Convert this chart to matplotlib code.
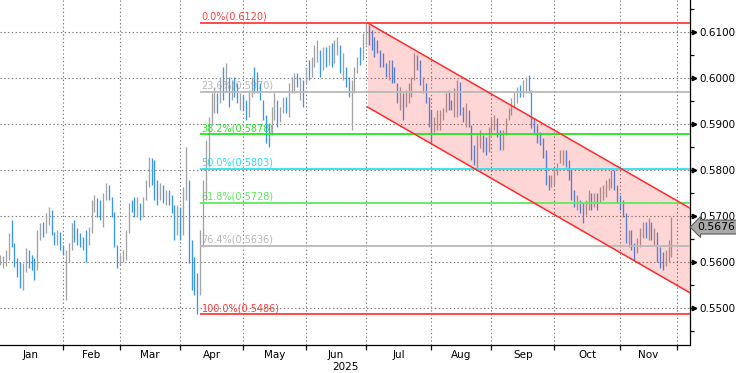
import numpy as np
import pandas as pd
import matplotlib
matplotlib.use("Agg")
import matplotlib.pyplot as plt
import matplotlib.transforms as mtrans

# ---------------- data (NZD/USD daily, 2025) ----------------
closes = [
    # Jan
    0.5600, 0.5609, 0.5617, 0.5657, 0.5637, 0.5600, 0.5578, 0.5557, 0.5583, 0.5622,
    0.5600, 0.5587, 0.5572, 0.5659, 0.5678, 0.5663, 0.5698, 0.5713, 0.5665, 0.5641,
    0.5659, 0.5633,
    # Feb
    0.5622, 0.5628, 0.5637, 0.5678, 0.5652, 0.5644, 0.5637, 0.5630, 0.5628, 0.5670,
    0.5724, 0.5735, 0.5709, 0.5702, 0.5746, 0.5761, 0.5739, 0.5709, 0.5641, 0.5600,
    # Mar
    0.5611, 0.5620, 0.5659, 0.5717, 0.5713, 0.5702, 0.5735, 0.5702, 0.5735, 0.5772,
    0.5817, 0.5789, 0.5757, 0.5735, 0.5757, 0.5739, 0.5746, 0.5735, 0.5713, 0.5659,
    0.5713,
    # Apr
    0.5665, 0.5746, 0.5767, 0.5615, 0.5561, 0.5550, 0.5517, 0.5648, 0.5757, 0.5844,
    0.5904, 0.5952, 0.5963, 0.5952, 0.5991, 0.5974, 0.5985, 0.5952, 0.5985, 0.5970,
    0.5952, 0.5959,
    # May
    0.5937, 0.5920, 0.5963, 0.5991, 0.5978, 0.5974, 0.5959, 0.5920, 0.5870, 0.5865,
    0.5926, 0.5952, 0.5909, 0.5930, 0.5952, 0.5935, 0.5978, 0.5996, 0.6002, 0.5985,
    0.5991, 0.5985,
    # Jun
    0.6017, 0.6007, 0.6035, 0.6061, 0.6072, 0.6017, 0.6057, 0.6039, 0.6061, 0.6035,
    0.6072, 0.6078, 0.6028, 0.6044, 0.5996, 0.5970, 0.5985, 0.6013, 0.6039, 0.6033,
    0.6087,
    # Jul
    0.6104, 0.6083, 0.6072, 0.6057, 0.6050, 0.6033, 0.6028, 0.6007, 0.6028, 0.6000,
    0.5996, 0.5957, 0.5970, 0.5920, 0.5963, 0.5978, 0.5996, 0.6046, 0.6024, 0.5996,
    0.6000, 0.5952, 0.5904,
    # Aug
    0.5876, 0.5898, 0.5913, 0.5920, 0.5926, 0.5959, 0.5941, 0.5935, 0.5970, 0.5985,
    0.5930, 0.5913, 0.5935, 0.5904, 0.5844, 0.5822, 0.5865, 0.5876, 0.5850, 0.5844,
    0.5883,
    # Sep
    0.5904, 0.5909, 0.5881, 0.5854, 0.5876, 0.5904, 0.5926, 0.5948, 0.5959, 0.5974,
    0.5967, 0.5985, 0.5996, 0.5978, 0.5904, 0.5891, 0.5870, 0.5861, 0.5839, 0.5778,
    0.5767, 0.5778,
    # Oct
    0.5789, 0.5807, 0.5833, 0.5837, 0.5828, 0.5789, 0.5746, 0.5728, 0.5735, 0.5713,
    0.5702, 0.5724, 0.5739, 0.5728, 0.5741, 0.5735, 0.5752, 0.5761, 0.5772, 0.5774,
    0.5789, 0.5767, 0.5739,
    # Nov
    0.5724, 0.5707, 0.5654, 0.5663, 0.5637, 0.5622, 0.5644, 0.5665, 0.5678, 0.5665,
    0.5685, 0.5659, 0.5665, 0.5615, 0.5600, 0.5594, 0.5613, 0.5637, 0.5676,
]
highs = [
    0.5615, 0.5613, 0.5626, 0.5663, 0.5691, 0.5641, 0.5609, 0.5600, 0.5598, 0.5630,
    0.5626, 0.5615, 0.5609, 0.5670, 0.5685, 0.5687, 0.5707, 0.5720, 0.5713, 0.5665,
    0.5670, 0.5665,
    0.5637, 0.5626, 0.5641, 0.5685, 0.5691, 0.5674, 0.5663, 0.5654, 0.5670, 0.5676,
    0.5735, 0.5746, 0.5739, 0.5735, 0.5750, 0.5772, 0.5767, 0.5741, 0.5709, 0.5637,
    0.5615, 0.5626, 0.5670, 0.5728, 0.5735, 0.5741, 0.5741, 0.5728, 0.5741, 0.5778,
    0.5828, 0.5826, 0.5822, 0.5778, 0.5772, 0.5767, 0.5757, 0.5757, 0.5746, 0.5724,
    0.5724,
    0.5720, 0.5763, 0.5850, 0.5778, 0.5648, 0.5611, 0.5576, 0.5670, 0.5778, 0.5865,
    0.5915, 0.5967, 0.5981, 0.5967, 0.6002, 0.6024, 0.6033, 0.6002, 0.5996, 0.6002,
    0.5989, 0.5967,
    0.5963, 0.5952, 0.5974, 0.6002, 0.6024, 0.6013, 0.5989, 0.5952, 0.5920, 0.5902,
    0.5937, 0.5967, 0.5952, 0.5937, 0.5959, 0.5959, 0.5989, 0.6002, 0.6011, 0.6011,
    0.6002, 0.5996,
    0.6024, 0.6039, 0.6046, 0.6072, 0.6083, 0.6061, 0.6067, 0.6067, 0.6072, 0.6076,
    0.6083, 0.6089, 0.6072, 0.6054, 0.6024, 0.6002, 0.5996, 0.6024, 0.6046, 0.6067,
    0.6098,
    0.6120, 0.6115, 0.6104, 0.6089, 0.6083, 0.6061, 0.6054, 0.6033, 0.6039, 0.6039,
    0.6024, 0.5989, 0.5981, 0.5967, 0.5974, 0.5989, 0.6002, 0.6054, 0.6050, 0.6039,
    0.6002, 0.5989, 0.5959,
    0.5930, 0.5915, 0.5930, 0.5930, 0.5935, 0.5967, 0.5974, 0.5952, 0.5978, 0.5996,
    0.5991, 0.5937, 0.5946, 0.5930, 0.5898, 0.5854, 0.5876, 0.5887, 0.5876, 0.5872,
    0.5894,
    0.5915, 0.5920, 0.5913, 0.5887, 0.5887, 0.5913, 0.5935, 0.5957, 0.5970, 0.5981,
    0.5985, 0.5996, 0.6002, 0.6007, 0.5974, 0.5913, 0.5898, 0.5883, 0.5870, 0.5844,
    0.5789, 0.5789,
    0.5804, 0.5815, 0.5844, 0.5844, 0.5844, 0.5822, 0.5800, 0.5757, 0.5746, 0.5735,
    0.5728, 0.5735, 0.5757, 0.5750, 0.5750, 0.5750, 0.5763, 0.5767, 0.5778, 0.5783,
    0.5800, 0.5800, 0.5767,
    0.5746, 0.5735, 0.5707, 0.5670, 0.5670, 0.5641, 0.5652, 0.5674, 0.5687, 0.5687,
    0.5696, 0.5687, 0.5674, 0.5665, 0.5633, 0.5622, 0.5626, 0.5648, 0.5698,
]
lows = [
    0.5594, 0.5587, 0.5591, 0.5604, 0.5633, 0.5589, 0.5567, 0.5544, 0.5539, 0.5578,
    0.5587, 0.5583, 0.5561, 0.5583, 0.5648, 0.5654, 0.5663, 0.5680, 0.5659, 0.5637,
    0.5637, 0.5626,
    0.5615, 0.5517, 0.5600, 0.5626, 0.5644, 0.5637, 0.5633, 0.5626, 0.5600, 0.5637,
    0.5663, 0.5709, 0.5698, 0.5691, 0.5676, 0.5735, 0.5735, 0.5698, 0.5633, 0.5587,
    0.5594, 0.5600, 0.5604, 0.5663, 0.5709, 0.5698, 0.5698, 0.5691, 0.5698, 0.5735,
    0.5763, 0.5767, 0.5735, 0.5724, 0.5735, 0.5728, 0.5724, 0.5724, 0.5707, 0.5648,
    0.5659,
    0.5648, 0.5659, 0.5735, 0.5598, 0.5539, 0.5528, 0.5486, 0.5528, 0.5633, 0.5735,
    0.5807, 0.5898, 0.5924, 0.5924, 0.5946, 0.5952, 0.5970, 0.5937, 0.5952, 0.5959,
    0.5946, 0.5930,
    0.5930, 0.5909, 0.5915, 0.5959, 0.5967, 0.5967, 0.5952, 0.5909, 0.5859, 0.5850,
    0.5876, 0.5909, 0.5894, 0.5904, 0.5924, 0.5924, 0.5915, 0.5967, 0.5967, 0.5981,
    0.5952, 0.5937,
    0.5989, 0.5996, 0.6002, 0.6024, 0.6035, 0.6002, 0.6017, 0.6024, 0.6028, 0.6024,
    0.6033, 0.6050, 0.6011, 0.5996, 0.5981, 0.5959, 0.5887, 0.5967, 0.6011, 0.6028,
    0.6039,
    0.6072, 0.6072, 0.6061, 0.6046, 0.6054, 0.6024, 0.6024, 0.6002, 0.5996, 0.5989,
    0.5989, 0.5946, 0.5930, 0.5909, 0.5937, 0.5946, 0.5959, 0.5996, 0.6017, 0.5985,
    0.5967, 0.5946, 0.5894,
    0.5859, 0.5883, 0.5887, 0.5887, 0.5909, 0.5926, 0.5930, 0.5930, 0.5915, 0.5915,
    0.5920, 0.5904, 0.5894, 0.5894, 0.5822, 0.5811, 0.5804, 0.5848, 0.5839, 0.5833,
    0.5839,
    0.5876, 0.5887, 0.5872, 0.5844, 0.5844, 0.5876, 0.5909, 0.5920, 0.5937, 0.5946,
    0.5959, 0.5959, 0.5967, 0.5967, 0.5891, 0.5881, 0.5859, 0.5854, 0.5826, 0.5767,
    0.5757, 0.5763,
    0.5767, 0.5789, 0.5815, 0.5811, 0.5807, 0.5778, 0.5735, 0.5720, 0.5713, 0.5707,
    0.5685, 0.5702, 0.5713, 0.5713, 0.5720, 0.5713, 0.5728, 0.5735, 0.5741, 0.5757,
    0.5761, 0.5757, 0.5728,
    0.5713, 0.5698, 0.5641, 0.5633, 0.5626, 0.5604, 0.5620, 0.5633, 0.5652, 0.5652,
    0.5648, 0.5648, 0.5637, 0.5600, 0.5587, 0.5583, 0.5591, 0.5600, 0.5611,
]
prev_close = 0.5595            # close of the last 2024 session

start_date = "2025-01-02"
month_names = ["Jan", "Feb", "Mar", "Apr", "May", "Jun", "Jul", "Aug", "Sep", "Oct", "Nov"]
year_label = "2025"

fib_high = 0.6120
fib_low = 0.5486
fib_ratios = [0.0, 0.236, 0.382, 0.5, 0.618, 0.764, 1.0]
fib_colors = ["#ff3c3c", "#b9b9b9", "#22e622", "#2ee0ec", "#5cec5c", "#b9b9b9", "#ff3c3c"]
fib_start_date = "2025-04-10"

channel_start_date = "2025-07-01"
channel_upper = (0.6120, 0.5717)
channel_lower = (0.5937, 0.5533)

last_price = 0.5676
y_ticks = [0.5500, 0.5600, 0.5700, 0.5800, 0.5900, 0.6000, 0.6100]

# ---------------- positions (business-day index from 1 Jan 2025) ----------------
origin = np.datetime64("2025-01-01")
dates = pd.bdate_range(start_date, periods=len(closes))
pos = np.array([np.busday_count(origin, np.datetime64(d.date())) for d in dates])
month_starts = [np.busday_count(origin, np.busday_offset(np.datetime64(f"2025-{m:02d}-01"), 0, roll="forward"))
                for m in range(1, 13)]
fib_x = np.busday_count(origin, np.datetime64(fib_start_date))
ch_x0 = np.busday_count(origin, np.datetime64(channel_start_date)) + 0.6

x_left, x_right = 0.94, 242.5
y_bottom, y_top = 0.54196, 0.61696

fig = plt.figure(figsize=(7.36, 3.73), dpi=100)
ax = fig.add_axes([0.0, 1 - 345 / 373, 690 / 736, 345 / 373])
ax.set_xlim(x_left, x_right)
ax.set_ylim(y_bottom, y_top)

# grid
grid_kw = dict(color="#7a7a7a", lw=0.8, ls=(0, (1.2, 2.2)), zorder=0.5)
for yv in y_ticks:
    ax.axhline(yv, **grid_kw)
for xv in month_starts[1:]:
    ax.axvline(xv, **grid_kw)

# bars
cl = np.array(closes)
prev = np.concatenate([[prev_close], cl[:-1]])
colors = np.where(cl >= prev, "#a2a2a2", "#3a94f5")
ax.vlines(pos, lows, highs, colors=colors, lw=0.95, zorder=2)

# fibonacci levels
fib_rng = fib_high - fib_low
for r, c in zip(fib_ratios, fib_colors):
    lvl = fib_high - r * fib_rng
    ax.plot([fib_x, x_right], [lvl, lvl], color=c, lw=1.3, zorder=3, solid_capstyle="butt")
    ax.annotate(f"{r * 100:.1f}%({lvl:.4f})", xy=(fib_x + 0.5, lvl), xytext=(0, 0.8),
                textcoords="offset points", ha="left", va="bottom", color=c,
                fontsize=7, zorder=1.5, annotation_clip=False)

# regression channel
ax.fill_between([ch_x0, x_right], [channel_upper[0], channel_upper[1]],
                [channel_lower[0], channel_lower[1]], color="#ff0000", alpha=0.16, lw=0, zorder=2.5)
ax.plot([ch_x0, x_right], channel_upper, color="#ff2a2a", lw=1.1, zorder=3.5)
ax.plot([ch_x0, x_right], channel_lower, color="#ff2a2a", lw=1.1, zorder=3.5)

# axes styling
for s in ["top", "left"]:
    ax.spines[s].set_visible(False)
for s in ["right", "bottom"]:
    ax.spines[s].set_color("black")
    ax.spines[s].set_linewidth(0.9)

ax.yaxis.tick_right()
ax.set_yticks(y_ticks)
ax.set_yticklabels([f"{v:.4f}" for v in y_ticks], fontsize=7.5)
ax.set_yticks([v + 0.005 for v in [0.540] + y_ticks], minor=True)
ax.tick_params(axis="y", which="major", length=4, width=0.9, pad=2.5, direction="out")
ax.tick_params(axis="y", which="minor", length=3, width=0.9, direction="out")
tr = mtrans.blended_transform_factory(ax.transAxes, ax.transData)
ax.plot([1.006] * len(y_ticks), y_ticks, ls="none", marker=">", ms=3.2, color="black",
        transform=tr, clip_on=False, zorder=5)

ax.set_xticks(month_starts[1:])
ax.set_xticklabels([])
ax.tick_params(axis="x", which="major", length=3.5, width=0.9, direction="out")
mids = [(month_starts[k] + month_starts[k + 1]) / 2 for k in range(len(month_names))]
ax.set_xticks(mids, minor=True)
ax.set_xticklabels(month_names, minor=True, fontsize=7.5)
ax.tick_params(axis="x", which="minor", length=0, pad=3.5)

ax.annotate(year_label, xy=(122, 0), xycoords=("data", "axes fraction"), xytext=(0, -16),
            textcoords="offset points", ha="center", va="center", fontsize=7.5,
            annotation_clip=False)

# last price tag
ax.annotate(f"{last_price:.4f}", xy=(1.0, last_price), xycoords=tr, xytext=(5.5, 0),
            textcoords="offset points", ha="left", va="center", fontsize=7.8, color="black",
            bbox=dict(boxstyle="larrow,pad=0.18", fc="#a9a9a9", ec="#5a5a5a", lw=0.8),
            annotation_clip=False, zorder=6)

fig.savefig("out.png", dpi=100, facecolor="white")
